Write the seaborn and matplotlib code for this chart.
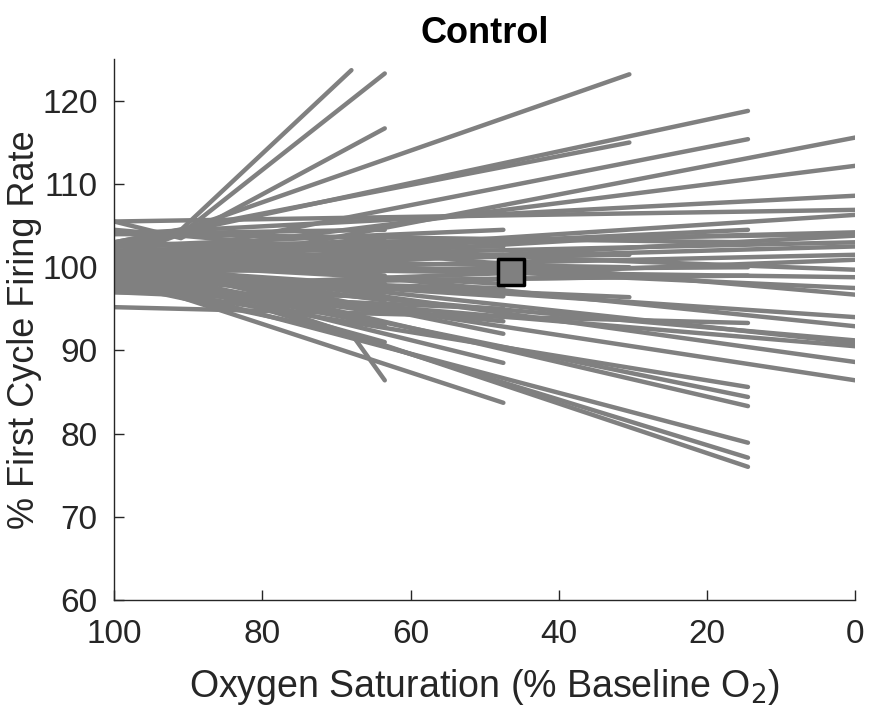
import numpy as np
import pandas as pd
import seaborn as sns
import matplotlib.pyplot as plt

# firing rate (% of first cycle) at 100 % O2 and at the last O2 level reached
start_0 = [98.5, 101, 104, 105.5, 100.5, 102, 99, 101, 100, 97.5, 103, 100, 101.5, 104.5, 100, 102, 99, 100.5, 98, 101, 100, 99.5, 102.5]
end_0 = [115.6, 112.2, 108.6, 106.9, 106.3, 104.2, 103.8, 103.0, 102.5, 100.9, 99.7, 98.8, 97.5, 96.7, 94.0, 92.9, 91.2, 90.9, 90.5, 88.6, 86.4, 101.5, 104.0]

start_14 = [102.5, 100.5, 95.2, 98, 100, 101, 99, 100.5, 101.5, 101, 98, 104, 99.5]
end_14 = [118.8, 115.4, 93.3, 85.6, 84.4, 83.3, 78.9, 77.1, 76.0, 104.5, 99.0, 103.0, 100.0]

start_30 = [101.6, 103, 100, 99, 101, 98, 100.5]
end_30 = [123.2, 115.0, 103.6, 96.4, 100.0, 98.8, 101.5]

start_47 = [100, 99, 101, 98.5, 102.5, 97, 100, 101.5, 99.5, 98, 102, 100.5]
end_47 = [88.5, 83.7, 101.5, 97.5, 104.5, 95.0, 99.5, 92.0, 96.5, 93.5, 102.5, 98.0]

start_63 = [99, 101, 100, 102, 97.5, 104, 99.5, 100.5, 98, 101.5, 99, 103, 100, 97]
end_63 = [97.0, 103.5, 100.5, 99.0, 95.5, 104.5, 93.0, 96.0, 98.0, 101.5, 94.5, 102.0, 91.0, 96.5]

# traces with an extra intermediate recording
kinked_x = [[100, 91, 68], [100, 91, 63.5], [100, 91, 63.5], [100, 68, 63.5]]
kinked_y = [[103, 104.5, 123.7], [101, 104, 123.3], [105.5, 103.5, 116.7], [98, 92, 86.4]]

# mean point
mean_x = [46.5]
mean_y = [99.4]

rows = []
tid = 0
for xe, starts, ends in [(0, start_0, end_0), (14.5, start_14, end_14), (30.5, start_30, end_30),
                         (47.5, start_47, end_47), (63.5, start_63, end_63)]:
    for s, e in zip(starts, ends):
        rows.append((tid, 100, s))
        rows.append((tid, xe, e))
        tid += 1
for xs, ys in zip(kinked_x, kinked_y):
    for x, y in zip(xs, ys):
        rows.append((tid, x, y))
    tid += 1
df = pd.DataFrame(rows, columns=['trace', 'o2', 'rate'])

sns.set_style('ticks')
plt.rcParams['font.family'] = ['Liberation Sans', 'DejaVu Sans']

fig = plt.figure(figsize=(8.72, 7.15), dpi=100)
ax = fig.add_axes([0.131, 0.161, 0.850, 0.756])

sns.lineplot(data=df, x='o2', y='rate', units='trace', estimator=None, sort=False,
             color='#808080', lw=3.2, ax=ax, legend=False)
sns.scatterplot(x=mean_x, y=mean_y, marker='s', s=360, color='#808080',
                edgecolor='black', linewidth=2.5, ax=ax, zorder=5)

ax.set_xlim(100, 0)
ax.set_ylim(60, 125)
ax.set_xticks([100, 80, 60, 40, 20, 0])
ax.set_yticks([60, 70, 80, 90, 100, 110, 120])
ax.tick_params(direction='in', length=7, width=1, labelsize=24, colors='#262626')
ax.tick_params(axis='x', pad=14)
ax.tick_params(axis='y', pad=12)
sns.despine(ax=ax)
for sp in ['left', 'bottom']:
    ax.spines[sp].set_color('#262626')
    ax.spines[sp].set_linewidth(1)

ax.set_xlabel('Oxygen Saturation (% Baseline O$_2$)', fontsize=27, color='#262626', labelpad=12)
ax.set_ylabel('% First Cycle Firing Rate', fontsize=26, color='#262626')
ax.yaxis.set_label_coords(-0.098, 0.5)
ax.set_title('Control', fontsize=26, fontweight='bold', color='black', pad=12)

fig.savefig('out.png', dpi=100)
